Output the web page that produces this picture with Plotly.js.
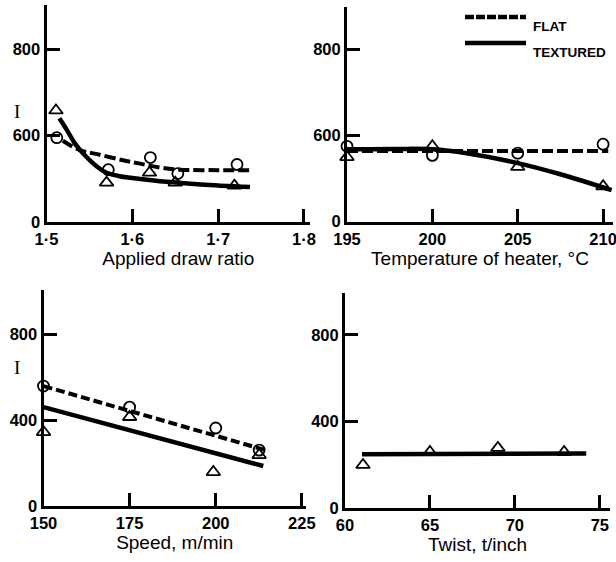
<!DOCTYPE html>
<html>
<head>
<meta charset="utf-8">
<script src="https://cdn.plot.ly/plotly-3.0.1.min.js"></script>
<style>html,body{margin:0;padding:0;background:#fff;}#chart{width:616px;height:562px;}</style>
</head>
<body>
<div id="chart"></div>
<script>
// ---- Panel 1: applied draw ratio ----
var drawFlatX = [1.512, 1.572, 1.621, 1.653, 1.722];
var drawFlatY = [595, 521, 549, 512, 533];
var drawTexX = [1.511, 1.570, 1.620, 1.650, 1.719];
var drawTexY = [658, 491, 514, 491, 484];
var drawFlatCurveX = [1.519, 1.539, 1.559, 1.589, 1.609, 1.632, 1.655, 1.700, 1.740];
var drawFlatCurveY = [588, 566, 557, 543, 535, 526, 521, 520, 520];
var drawTexCurveX = [1.515, 1.524, 1.533, 1.543, 1.559, 1.570, 1.585, 1.600, 1.640, 1.680, 1.737];
var drawTexCurveY = [640, 612, 582, 558, 528, 514, 506, 502, 493, 487, 481];
var drawTickVals = [1.5, 1.6, 1.7, 1.8];
var drawTickText = ['1·5', '1·6', '1·7', '1·8'];

// ---- Panel 2: temperature of heater ----
var tempX = [195, 200, 205, 210];
var tempFlatY = [574, 553, 558, 579];
var tempTexY = [549, 574, 526, 481];
var tempFlatCurveX = [195, 210.3];
var tempFlatCurveY = [563, 563];
var tempTexCurveX = [195, 198, 200, 202, 205, 207.5, 210.5];
var tempTexCurveY = [567, 568, 567, 558, 535, 509, 472];
var tempTickVals = [195, 200, 205, 210];

// ---- Panel 3: speed ----
var speedFlatX = [150, 175, 200, 212.6];
var speedFlatY = [558, 460, 363, 260];
var speedTexX = [150, 175, 199.3, 212.6];
var speedTexY = [344, 414, 158, 237];
var speedFlatLineX = [150, 215.3];
var speedFlatLineY = [558, 256];
var speedTexLineX = [150, 213.8];
var speedTexLineY = [460, 186];
var speedTickVals = [150, 175, 200, 225];

// ---- Panel 4: twist ----
var twistTexX = [61.06, 65.0, 69.0, 72.9];
var twistTexY = [199, 259, 278, 259];
var twistTexLineX = [61, 73.4, 74.2];
var twistTexLineY = [248, 248, 252];
var twistTickVals = [60, 65, 70, 75];

// upper panels: broken axis, bottom labelled 0
var upperYTickVals = [400, 600, 800];
var upperYTickText = ['0', '600', '800'];
var lowerYTickVals = [0, 400, 800];
var lowerYTickText = ['0', '400', '800'];

var W = 616, H = 562;
function px(x) { return x / W; }
function py(y) { return 1 - y / H; }

var FONT = 'Liberation Sans, Arial, sans-serif';

function axis(domain, range, vals, text, anchor, title) {
  var a = {
    domain: domain, range: range, anchor: anchor, tickmode: 'array', tickvals: vals, ticktext: text,
    ticks: 'inside', ticklen: 13, tickwidth: 3, tickcolor: '#000',
    showline: true, linewidth: 3, linecolor: '#000', mirror: false,
    showgrid: false, zeroline: false, ticklabeloverflow: 'allow',
    tickfont: {family: FONT, size: 16.5, color: '#000', weight: 'bold'}
  };
  if (title) a.title = {text: title, font: {family: FONT, size: 19, color: '#000'}, standoff: 1};
  return a;
}

var flatMarker = {symbol: 'circle-open', size: 11, color: '#000', line: {width: 1.8, color: '#000'}};
var texMarker = {symbol: 'triangle-up-open', size: 12, color: '#000', line: {width: 1.8, color: '#000'}};
var flatLine = {color: '#000', width: 4, dash: '11px,4px'};
var texLine = {color: '#000', width: 4.5};

function curve(x, y, xa, ya, line, name) {
  return {x: x, y: y, xaxis: xa, yaxis: ya, mode: 'lines', line: line, name: name, showlegend: false, hoverinfo: 'skip'};
}
function pts(x, y, xa, ya, marker, name) {
  return {x: x, y: y, xaxis: xa, yaxis: ya, mode: 'markers', marker: marker, name: name, showlegend: false, cliponaxis: false};
}

var data = [
  curve(drawFlatCurveX, drawFlatCurveY, 'x', 'y', Object.assign({shape: 'spline'}, flatLine), 'FLAT'),
  curve(drawTexCurveX, drawTexCurveY, 'x', 'y', Object.assign({shape: 'spline'}, texLine), 'TEXTURED'),
  pts(drawFlatX, drawFlatY, 'x', 'y', flatMarker, 'FLAT'),
  pts(drawTexX, drawTexY, 'x', 'y', texMarker, 'TEXTURED'),

  curve(tempFlatCurveX, tempFlatCurveY, 'x2', 'y2', flatLine, 'FLAT'),
  curve(tempTexCurveX, tempTexCurveY, 'x2', 'y2', Object.assign({shape: 'spline'}, texLine), 'TEXTURED'),
  pts(tempX, tempFlatY, 'x2', 'y2', flatMarker, 'FLAT'),
  pts(tempX, tempTexY, 'x2', 'y2', texMarker, 'TEXTURED'),

  curve(speedFlatLineX, speedFlatLineY, 'x3', 'y3', {color: '#000', width: 4, dash: '9px,4px'}, 'FLAT'),
  curve(speedTexLineX, speedTexLineY, 'x3', 'y3', texLine, 'TEXTURED'),
  pts(speedFlatX, speedFlatY, 'x3', 'y3', flatMarker, 'FLAT'),
  pts(speedTexX, speedTexY, 'x3', 'y3', texMarker, 'TEXTURED'),

  curve(twistTexLineX, twistTexLineY, 'x4', 'y4', texLine, 'TEXTURED'),
  pts(twistTexX, twistTexY, 'x4', 'y4', texMarker, 'TEXTURED')
];

var layout = {
  width: W, height: H,
  margin: {l: 0, r: 0, t: 0, b: 0},
  paper_bgcolor: '#fff', plot_bgcolor: 'rgba(0,0,0,0)',
  showlegend: false,
  font: {family: FONT, color: '#000'},
  xaxis: axis([px(46.5), px(310)], [1.5, 1.807], drawTickVals, drawTickText, 'y', 'Applied draw ratio'),
  yaxis: axis([py(222), py(5)], [400, 902], upperYTickVals, upperYTickText, 'x'),
  xaxis2: axis([px(347), px(613)], [195, 210.58], tempTickVals, tempTickVals.map(String), 'y2', 'Temperature of heater, °C'),
  yaxis2: axis([py(222), py(7)], [398, 898], upperYTickVals, upperYTickText, 'x2'),
  xaxis3: axis([px(43.5), px(306)], [150, 226.2], speedTickVals, speedTickVals.map(String), 'y3', 'Speed, m/min'),
  yaxis3: axis([py(506), py(290)], [0, 1005], lowerYTickVals, lowerYTickText, 'x3'),
  xaxis4: axis([px(345), px(610)], [60, 75.6], twistTickVals, twistTickVals.map(String), 'y4', 'Twist, t/inch'),
  yaxis4: axis([py(508), py(293)], [0, 994], lowerYTickVals, lowerYTickText, 'x4'),
  annotations: [
    {text: 'I', xref: 'paper', yref: 'paper', x: px(12), y: py(99), showarrow: false, font: {family: 'Liberation Serif, serif', size: 19, color: '#000'}},
    {text: 'I', xref: 'paper', yref: 'paper', x: px(12), y: py(380), showarrow: false, font: {family: 'Liberation Serif, serif', size: 19, color: '#000'}},
    {text: '<b>FLAT</b>', xref: 'paper', yref: 'paper', x: px(531), y: py(17), xanchor: 'left', showarrow: false, font: {family: FONT, size: 13.5, color: '#000'}},
    {text: '<b>TEXTURED</b>', xref: 'paper', yref: 'paper', x: px(531), y: py(43), xanchor: 'left', showarrow: false, font: {family: FONT, size: 13.5, color: '#000'}}
  ],
  shapes: [
    {type: 'line', xref: 'paper', yref: 'paper', x0: px(465), x1: px(526), y0: py(17), y1: py(17), line: {color: '#000', width: 4.5, dash: '9px,2px'}},
    {type: 'line', xref: 'paper', yref: 'paper', x0: px(465), x1: px(526), y0: py(43), y1: py(43), line: {color: '#000', width: 4.5}}
  ]
};

Plotly.newPlot('chart', data, layout, {staticPlot: true, displayModeBar: false});
</script>
</body>
</html>
